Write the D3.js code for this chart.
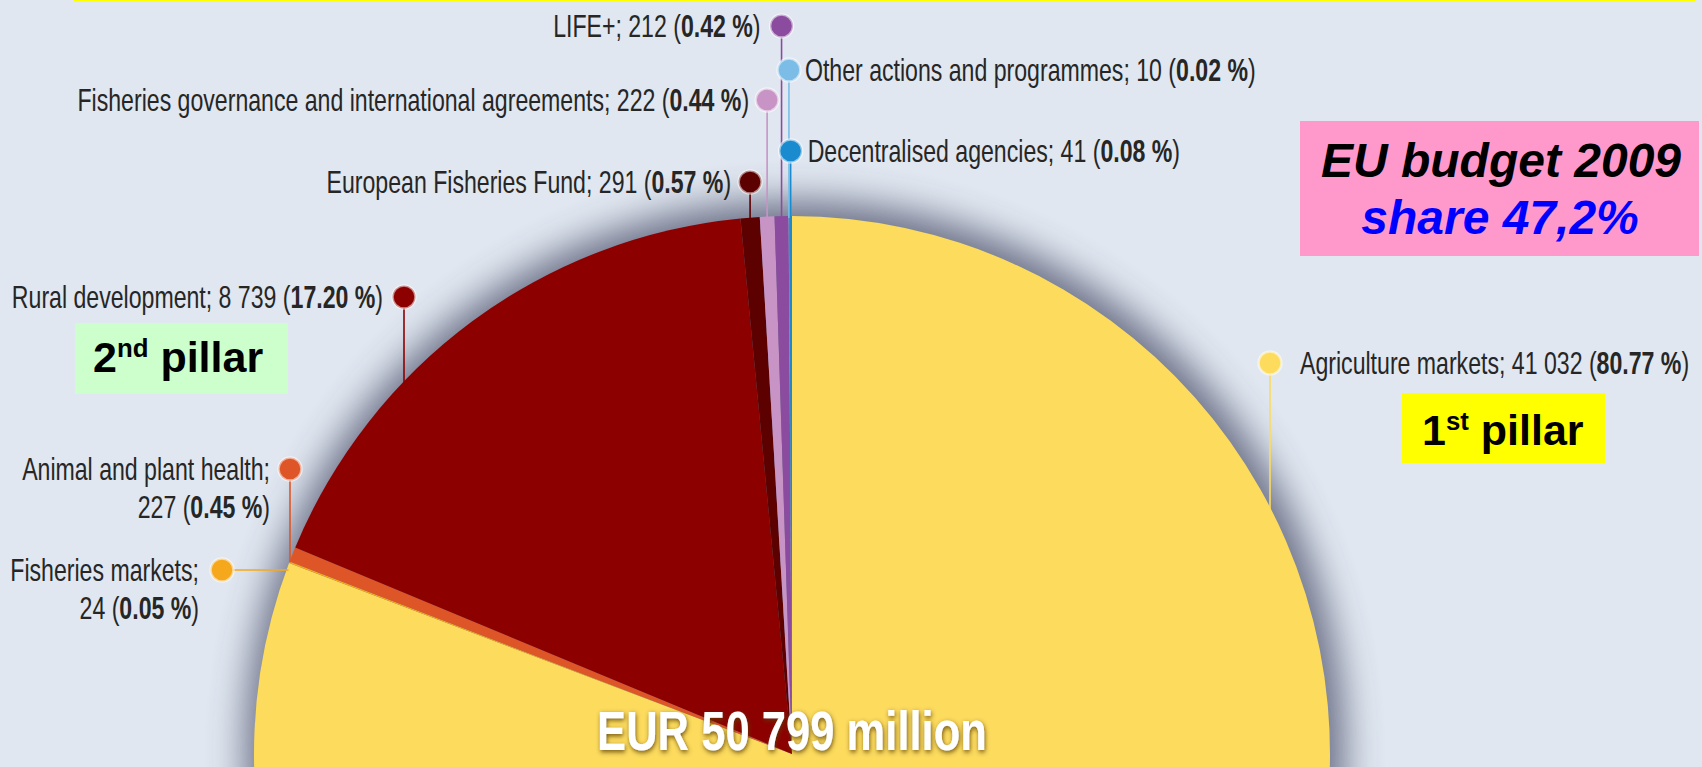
<!DOCTYPE html>
<html>
<head>
<meta charset="utf-8">
<script src="https://cdn.jsdelivr.net/npm/d3@7"></script>
<style>
  body { margin: 0; background: #e0e7f0; overflow: hidden; }
  svg { display: block; }
  .lbl { font-family: "Liberation Sans Narrow", "Arial Narrow", "Liberation Sans", sans-serif; font-size: 31px; fill: #262626; }
  .box-txt { font-family: "Liberation Sans", Arial, sans-serif; font-weight: bold; }
</style>
</head>
<body>
<svg id="chart"></svg>
<script>
// budget headings, EUR million (clockwise from 12 o'clock)
var categories = ["Agriculture markets", "Fisheries markets", "Animal and plant health",
  "Rural development", "European Fisheries Fund",
  "Fisheries governance and international agreements", "LIFE+",
  "Other actions and programmes", "Decentralised agencies"];
var amounts = [41032, 24, 227, 8739, 291, 222, 212, 10, 41];
var shares = ["80.77", "0.05", "0.45", "17.20", "0.57", "0.44", "0.42", "0.02", "0.08"];
var totalLabel = "EUR 50 799 million";

var sliceColors = ["#fcdb5d", "#f6a81c", "#de5628", "#8c0000", "#5c0000",
  "#c894c6", "#8b4c9f", "#7cbde8", "#1b8bcf"];

var width = 1702, height = 767;
var cx = 792, cy = 754, r = 538;

// where each label sits (dot y / dot x, side of the dot the text goes on)
var labelPos = {
  "Agriculture markets": { dotX: 1270, dotY: 363, side: "right", gap: 30, leader: "down" },
  "Fisheries markets": { dotX: 222, dotY: 570, side: "left", gap: 23, leader: "across", lines: 2 },
  "Animal and plant health": { dotX: 290, dotY: 469, side: "left", gap: 20, leader: "down", lines: 2 },
  "Rural development": { dotX: 404, dotY: 297, side: "left", gap: 21, leader: "down" },
  "European Fisheries Fund": { dotY: 182, side: "left", gap: 19, leader: "down" },
  "Fisheries governance and international agreements": { dotY: 100, side: "left", gap: 18, leader: "down" },
  "LIFE+": { dotY: 26, side: "left", gap: 21, leader: "down" },
  "Other actions and programmes": { dotY: 70, side: "right", gap: 16, leader: "down" },
  "Decentralised agencies": { dotY: 151, side: "right", gap: 17, leader: "down" }
};

var data = categories.map(function (c, i) {
  return { name: c, amount: amounts[i], share: shares[i], color: sliceColors[i] };
});

var fmt = function (v) { return d3.format(",")(v).replace(/,/g, " "); };

var svg = d3.select("#chart").attr("width", width).attr("height", height);

var defs = svg.append("defs");
defs.append("filter").attr("id", "blur")
  .attr("x", "-20%").attr("y", "-20%").attr("width", "140%").attr("height", "140%")
  .append("feGaussianBlur").attr("stdDeviation", 18);
var glow = defs.append("filter").attr("id", "txtshadow")
  .attr("x", "-10%").attr("y", "-30%").attr("width", "120%").attr("height", "160%");
glow.append("feDropShadow").attr("dx", 1).attr("dy", 2).attr("stdDeviation", 2.5)
  .attr("flood-color", "#5a3c00").attr("flood-opacity", 0.85);

svg.append("rect").attr("width", width).attr("height", height).attr("fill", "#e0e7f0");
// yellow strip at the top edge
svg.append("rect").attr("x", 74).attr("y", 0).attr("width", 1621).attr("height", 1.5).attr("fill", "#ffff00");

// pie
var pie = d3.pie().sort(null).value(function (d) { return d.amount; });
var arc = d3.arc().innerRadius(0).outerRadius(r);
var arcs = pie(data);

var g = svg.append("g").attr("transform", "translate(" + cx + "," + cy + ")");
g.append("circle").attr("r", r + 12).attr("cx", 3).attr("cy", -4)
  .attr("fill", "#464c66").attr("opacity", 0.75).attr("filter", "url(#blur)");

g.selectAll("path.slice")
  .data(arcs)
  .enter()
  .append("path")
    .attr("class", "slice")
    .attr("d", arc)
    .attr("fill", function (d) { return d.data.color; });

// total in the middle
var tot = svg.append("g").attr("transform", "translate(" + cx + ",750)");
var totText = tot.append("text")
  .attr("text-anchor", "middle")
  .style("font-family", "'Liberation Sans Narrow','Liberation Sans',sans-serif")
  .style("font-weight", "bold")
  .style("font-size", "56px")
  .attr("fill", "#ffffff")
  .attr("filter", "url(#txtshadow)")
  .text(totalLabel);
var totW = totText.node().getComputedTextLength();
totText.attr("transform", "scale(" + (390 / totW) + ",1)");

// leader lines, dots and labels
var labelGroups = [];
arcs.forEach(function (a) {
  var p = labelPos[a.data.name];
  var mid = (a.startAngle + a.endAngle) / 2;
  var dx = p.dotX !== undefined ? p.dotX : cx + r * Math.sin(mid);
  var dy = p.dotY;
  var ex, ey;
  if (p.leader === "across") {
    ey = dy;
    ex = cx - Math.sqrt(r * r - (dy - cy) * (dy - cy)) + 2;
  } else {
    ex = dx;
    ey = cy - Math.sqrt(r * r - (dx - cx) * (dx - cx)) + 2;
  }
  svg.append("line")
    .attr("x1", dx).attr("y1", dy).attr("x2", ex).attr("y2", ey)
    .attr("stroke", a.data.color).attr("stroke-width", 1.6);
  svg.append("circle")
    .attr("cx", dx).attr("cy", dy).attr("r", 11.5)
    .attr("fill", a.data.color)
    .attr("stroke", "rgba(255,255,255,0.55)").attr("stroke-width", 2.5);

  var tx = p.side === "left" ? dx - p.gap : dx + p.gap;
  var lg = svg.append("g").attr("transform", "translate(" + tx + "," + dy + ")");
  var anchor = p.side === "left" ? "end" : "start";
  if (p.lines === 2) {
    var t1 = lg.append("text").attr("class", "lbl").attr("text-anchor", anchor).attr("dy", "0.35em");
    t1.text(a.data.name + ";");
    var t2 = lg.append("text").attr("class", "lbl").attr("text-anchor", anchor).attr("y", 38).attr("dy", "0.35em");
    t2.append("tspan").text(fmt(a.data.amount) + " (");
    t2.append("tspan").style("font-weight", "bold").text(a.data.share + " %");
    t2.append("tspan").text(")");
  } else {
    var t = lg.append("text").attr("class", "lbl").attr("text-anchor", anchor).attr("dy", "0.35em");
    t.append("tspan").text(a.data.name + "; " + fmt(a.data.amount) + " (");
    t.append("tspan").style("font-weight", "bold").text(a.data.share + " %");
    t.append("tspan").text(")");
  }
  labelGroups.push({ g: lg, name: a.data.name });
});

// squeeze the label font to the condensed width of the original
var refGroup = labelGroups.filter(function (d) { return d.name === "Fisheries governance and international agreements"; })[0];
var refW = refGroup.g.node().getBBox().width;
var k = 672 / refW;
labelGroups.forEach(function (d) {
  d.g.selectAll("text").attr("transform", "scale(" + k + ",1)");
});

// pillar boxes
function pillarBox(x, y, w, h, fill, big, sup, rest, tx, ty, size) {
  svg.append("rect").attr("x", x).attr("y", y).attr("width", w).attr("height", h).attr("fill", fill);
  var t = svg.append("text").attr("class", "box-txt").attr("x", tx).attr("y", ty)
    .style("font-size", size + "px").attr("fill", "#000");
  t.append("tspan").text(big);
  t.append("tspan").attr("dy", -size * 0.36).style("font-size", (size * 0.6) + "px").text(sup);
  t.append("tspan").attr("dy", size * 0.36).text(" " + rest);
}
pillarBox(75, 323, 213, 71, "#ccffcc", "2", "nd", "pillar", 93, 372, 43);
pillarBox(1402, 393, 203, 70, "#ffff00", "1", "st", "pillar", 1422, 445, 43);

// EU budget box
svg.append("rect").attr("x", 1300).attr("y", 121).attr("width", 399).attr("height", 135).attr("fill", "#ff99cc");
svg.append("text").attr("class", "box-txt").attr("x", 1501).attr("y", 177)
  .attr("text-anchor", "middle").style("font-style", "italic").style("font-size", "48px")
  .attr("fill", "#000").text("EU budget 2009");
svg.append("text").attr("class", "box-txt").attr("x", 1500).attr("y", 234)
  .attr("text-anchor", "middle").style("font-style", "italic").style("font-size", "48px")
  .attr("fill", "#0000ff").text("share 47,2%");
</script>
</body>
</html>
